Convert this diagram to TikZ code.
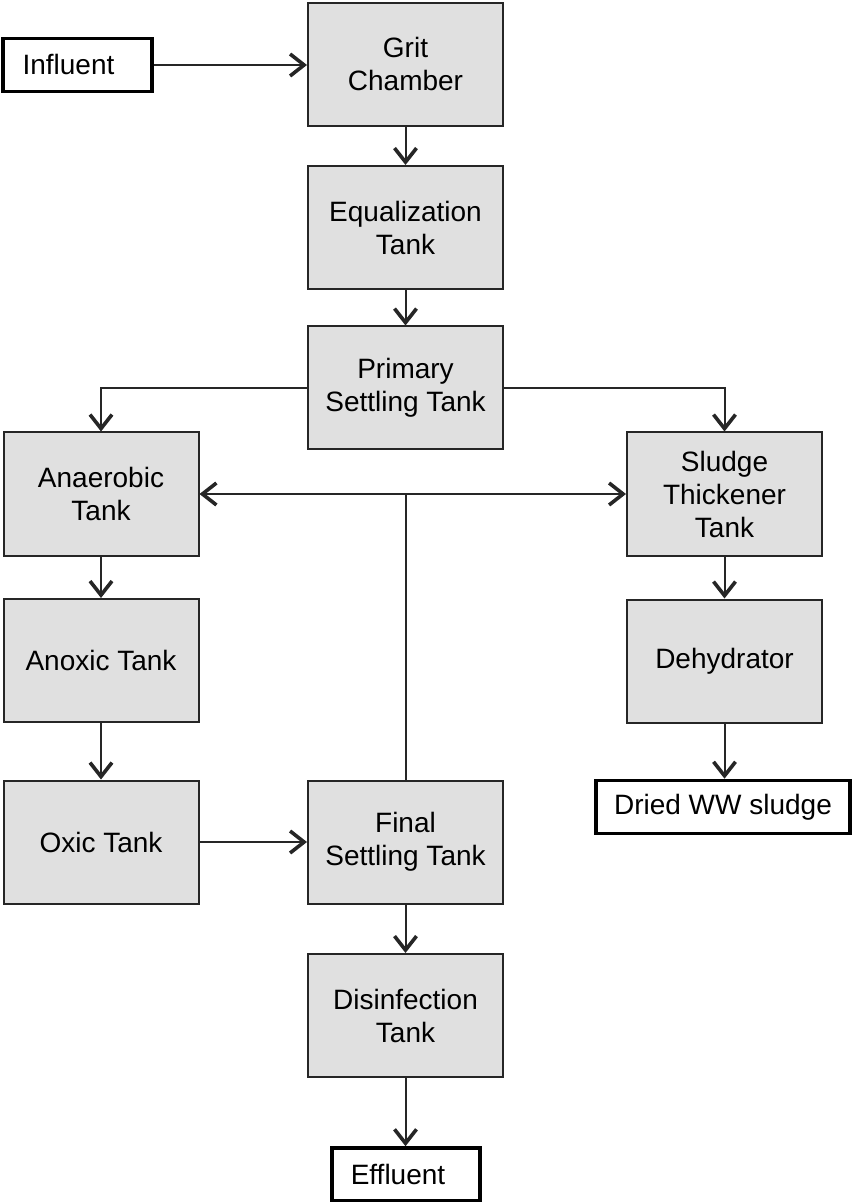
\documentclass[tikz,border=0pt]{standalone}
\usepackage{fontspec}
\setmainfont{Liberation Sans}
\usepackage{tikz}
\usetikzlibrary{arrows.meta}
\usetikzlibrary{calc}

\definecolor{tankgray}{HTML}{E0E0E0}
\definecolor{edgegray}{HTML}{262626}

\begin{document}
\begin{tikzpicture}[x=0.5pt,y=-0.5pt,
    tank/.style={draw=edgegray,line width=1pt,fill=tankgray,minimum width=97.5pt,
      minimum height=61.5pt,align=center,font=\fontsize{14pt}{16.5pt}\selectfont,inner sep=0pt},
    endbox/.style={draw=black,line width=1.8pt,fill=white,minimum height=26.5pt,
      font=\fontsize{14pt}{16.5pt}\selectfont,inner sep=0pt},
    flow/.style={draw=edgegray,line width=1pt,-{Straight Barb[length=7pt,width=11pt,line width=1.8pt]}},
    both/.style={draw=edgegray,line width=1pt,{Straight Barb[length=7pt,width=11pt,line width=1.8pt]}-{Straight Barb[length=7pt,width=11pt,line width=1.8pt]}}]
  \useasboundingbox (0,0) rectangle (851,1202);
  % middle column
  \node [endbox,minimum width=74.5pt] (influent) at (77.5,65) {Influent\hspace*{9pt}};
  \node [tank] (grit) at (405.5,64.5) {Grit\\Chamber};
  \node [tank] (equal) at (405.5,227.5) {Equalization\\Tank};
  \node [tank] (primary) at (405.5,388) {Primary\\Settling Tank};
  % left column
  \node [tank] (anaerobic) at (101,494) {Anaerobic\\Tank};
  \node [tank] (anoxic) at (101,660.5) {Anoxic Tank};
  \node [tank] (oxic) at (101,842) {Oxic Tank};
  % right column
  \node [tank] (thickener) at (724.5,494) {Sludge\\Thickener\\Tank};
  \node [tank] (dehydrator) at (724.5,661) {Dehydrator};
  \node [endbox,minimum width=127pt] (dried) at (723,807) {Dried WW sludge};
  % bottom
  \node [tank] (final) at (405.5,842) {Final\\Settling Tank};
  \node [tank] (disinfect) at (405.5,1015.5) {Disinfection\\Tank};
  \node [endbox,minimum width=74pt] (effluent) at (406,1174.5) {Effluent\hspace*{8pt}};

  \draw [flow] (influent) -- (influent -| grit.west);
  \draw [flow] (grit) -- (equal);
  \draw [flow] (equal) -- (primary);
  \draw [flow] (primary.west) -| (anaerobic.north);
  \draw [flow] (primary.east) -| (thickener.north);
  \draw [flow] (anaerobic) -- (anoxic);
  \draw [flow] (anoxic) -- (oxic);
  \draw [flow] (oxic) -- (final);
  \draw [flow] (thickener) -- (dehydrator);
  \draw [flow] (dehydrator) -- (dehydrator |- dried.north);
  \draw [flow] (final) -- (disinfect);
  \draw [flow] (disinfect) -- (disinfect |- effluent.north);
  \coordinate (return) at (final.north |- anaerobic.east);
  \draw [both] (anaerobic.east) -- (thickener.west);
  \draw [draw=edgegray,line width=1pt] (final.north) -- (return);
\end{tikzpicture}
\end{document}
